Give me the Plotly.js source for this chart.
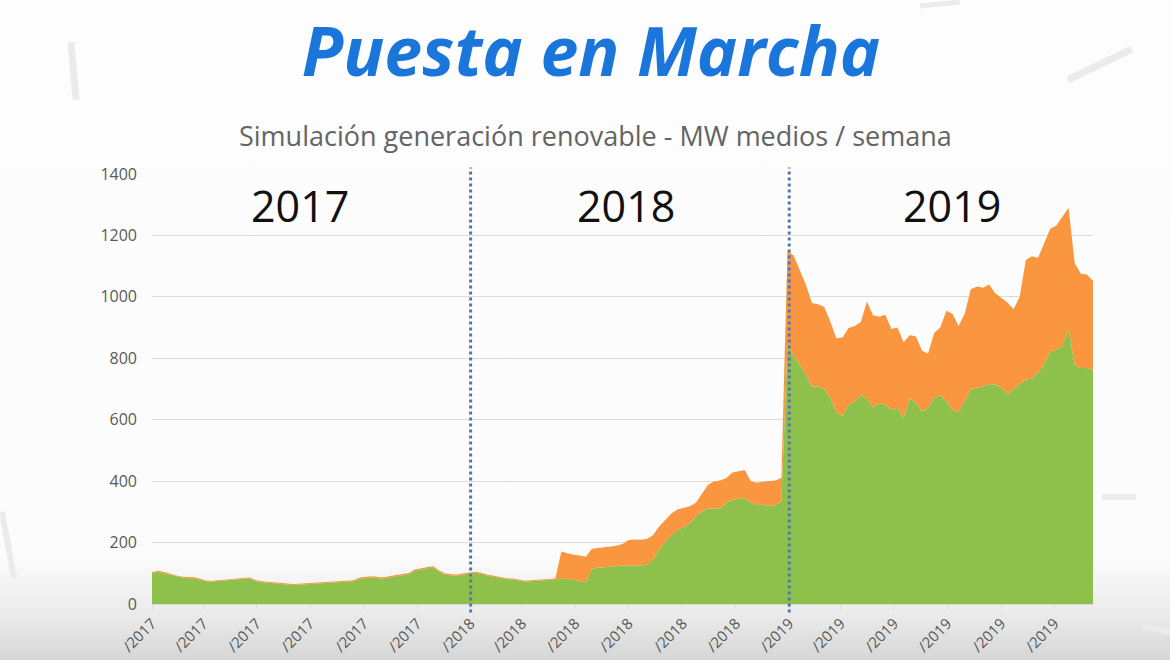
<!DOCTYPE html>
<html>
<head>
<meta charset="utf-8">
<script src="https://cdn.plot.ly/plotly-3.0.1.min.js"></script>
<style>
  html, body { margin: 0; padding: 0; width: 1170px; height: 660px; overflow: hidden; }
  body { background: linear-gradient(to bottom, #fdfdfd 0%, #fcfcfc 84%, #ebebeb 93%, #d6d6d6 100%); }
  #chart { width: 1170px; height: 660px; }
</style>
</head>
<body>
<div id="chart"></div>
<script>
// ---- Data (MW medios / semana) ----
const yearLabels = ["2017", "2018", "2019"];
const yearCenters = ["2017-06-19", "2018-06-28", "2019-07-06"];
const yearStarts = ["2018-01-01", "2019-01-01"];

const green2017 = [100,104,100,95,90,86,84,84,78,73,73,75,78,80,80,82,83,74,71,69,67,65,63,62,63,64,65,66,67,68,69,70,72,74,82,85,86,84,83,87,90,93,97,108,112,118,120,105,95,93,92,96];
const orange2017 = [4,4,4,3,3,3,3,3,3,3,3,3,3,3,3,3,3,3,3,3,3,3,3,3,3,3,3,3,3,3,3,3,3,3,4,4,4,4,4,4,4,4,4,4,4,4,4,4,4,4,4,4];
const green2018 = [100,102,98,92,89,85,81,80,76,73,74,75,76,78,80,83,80,78,76,70,115,118,120,122,124,125,125,125,125,128,145,178,200,225,240,252,262,285,302,310,312,312,330,340,343,345,330,322,323,320,322,335];
const orange2018 = [3,3,3,3,3,3,3,3,3,3,3,3,3,3,4,88,85,82,82,84,65,64,64,65,66,70,83,85,84,84,80,74,75,70,68,60,56,45,56,78,88,90,80,88,89,91,70,73,75,80,80,75];
const green2019 = [840,810,780,748,708,708,700,672,625,612,649,658,680,670,640,654,649,632,640,605,670,655,627,640,672,680,660,632,625,660,700,705,708,716,715,705,682,700,715,730,734,755,780,822,828,840,895,780,768,768,760];
const orange2019 = [310,325,305,292,272,268,268,248,240,256,250,247,238,315,300,281,293,263,260,247,205,217,198,175,210,220,295,313,280,285,325,329,322,324,297,293,300,260,285,390,398,372,392,400,404,422,395,330,307,305,292];

// Tick positions (first day of every other month); only the visible end of each date label is shown
const tickVals = ["2017-01-01","2017-03-01","2017-05-01","2017-07-01","2017-09-01","2017-11-01",
                  "2018-01-01","2018-03-01","2018-05-01","2018-07-01","2018-09-01","2018-11-01",
                  "2019-01-01","2019-03-01","2019-05-01","2019-07-01","2019-09-01","2019-11-01"];
const tickText = ["/2017","/2017","/2017","/2017","/2017","/2017",
                  "/2018","/2018","/2018","/2018","/2018","/2018",
                  "/2019","/2019","/2019","/2019","/2019","/2019"];

// ---- Build weekly series ----
const greenAll = green2017.concat(green2018, green2019);
const orangeAll = orange2017.concat(orange2018, orange2019);
const weeks = greenAll.map((_, k) => {
  const d = new Date(Date.UTC(2017, 0, 1 + 7 * k));
  return d.toISOString().slice(0, 10);
});

const traces = [
  { x: weeks, y: greenAll, name: "Eólica", type: "scatter", mode: "lines",
    stackgroup: "gen", line: { width: 0, color: "#8dc14c" }, fillcolor: "#8dc14c",
    hoverinfo: "x+y+name" },
  { x: weeks, y: orangeAll, name: "Solar", type: "scatter", mode: "lines",
    stackgroup: "gen", line: { width: 0, color: "#f9963f" }, fillcolor: "#f9963f",
    hoverinfo: "x+y+name" }
];

// decorative slide strokes (pixel -> paper helpers)
const L = 152, R = 1093, T = 174, B = 604;
const px = v => (v - L) / (R - L);
const py = v => (B - v) / (B - T);
function stroke(x0, y0, x1, y1, w) {
  return { type: "line", xref: "paper", yref: "paper", layer: "below",
           x0: px(x0), y0: py(y0), x1: px(x1), y1: py(y1),
           line: { color: "#ebebeb", width: w || 6 } };
}

const shapes = yearStarts.map(d => ({
  type: "line", xref: "x", yref: "paper", x0: d, x1: d, y0: -0.02, y1: 1.015,
  line: { color: "#5876aa", width: 3, dash: "dot" }
})).concat([
  stroke(71, 42, 76, 100, 7),
  stroke(1068, 80, 1132, 49, 7),
  stroke(920, 6, 960, 2, 5),
  stroke(2, 512, 14, 578, 6),
  stroke(1102, 497, 1136, 497, 6),
  stroke(1142, 626, 1170, 632, 6)
]);

const annotations = yearLabels.map((t, i) => ({
  x: yearCenters[i], y: 1296, xref: "x", yref: "y", text: t, showarrow: false,
  font: { family: "Open Sans, Liberation Sans, sans-serif", size: 43, color: "#111111" }
})).concat([{
  text: "Simulación generación renovable - MW medios / semana",
  xref: "paper", yref: "paper", x: px(595), y: py(135), xanchor: "center", yanchor: "middle",
  showarrow: false,
  font: { family: "Open Sans, Noto Sans, sans-serif", size: 27, color: "#646464" }
}]);

const layout = {
  width: 1170, height: 660,
  margin: { l: L, r: 1170 - R, t: T, b: 660 - B, pad: 0 },
  paper_bgcolor: "rgba(0,0,0,0)",
  plot_bgcolor: "rgba(0,0,0,0)",
  showlegend: false,
  title: {
    text: "<b><i>Puesta en Marcha</i></b>",
    x: 591 / 1170, xanchor: "center", y: 1 - 52 / 660, yanchor: "middle",
    font: { family: "Open Sans, Noto Sans, sans-serif", size: 68, color: "#1b76dc" }
  },
  xaxis: {
    type: "date",
    range: ["2017-01-01", weeks[weeks.length - 1]],
    tickmode: "array", tickvals: tickVals, ticktext: tickText,
    tickangle: -45,
    tickfont: { family: "Open Sans, Noto Sans, sans-serif", size: 15, color: "#595959" },
    showgrid: false, zeroline: false,
    showline: true, linecolor: "#d9d9d9", linewidth: 1,
    ticks: "outside", ticklen: 4, tickcolor: "#d9d9d9",
    automargin: false, fixedrange: true
  },
  yaxis: {
    range: [0, 1400], dtick: 200, tick0: 0,
    tickfont: { family: "Open Sans, Noto Sans, sans-serif", size: 16, color: "#595959" },
    gridcolor: "#dcdcdc", gridwidth: 1, zeroline: false, showline: false,
    ticks: "", ticklabelstandoff: 14,
    automargin: false, fixedrange: true
  },
  shapes: shapes,
  annotations: annotations
};

Plotly.newPlot("chart", traces, layout, { displayModeBar: false, staticPlot: true });
</script>
</body>
</html>
